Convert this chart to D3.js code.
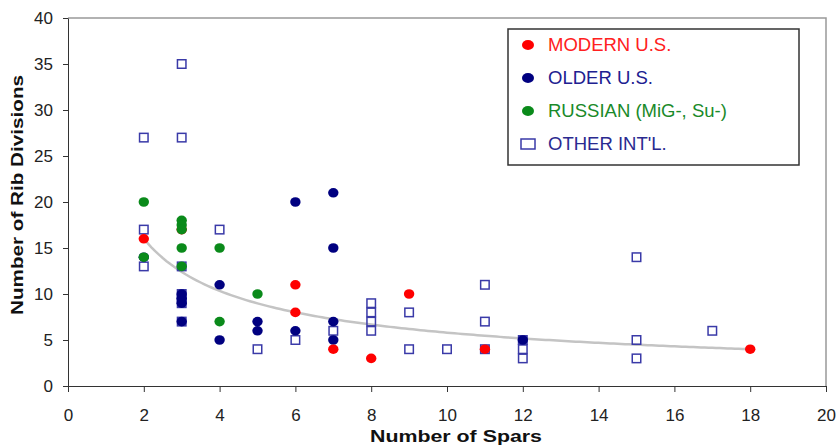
<!DOCTYPE html>
<html>
<head>
<meta charset="utf-8">
<style>
    body { margin: 0; background: #fff; }
    svg { display: block; font-family: "Liberation Sans", Arial, sans-serif; }
    .axis path, .axis line { stroke: #333; }
    .axis text { fill: #222; font-size: 17px; }
    .title { font-weight: bold; font-size: 17px; fill: #111; }
</style>
</head>
<body>
<script src="https://cdn.jsdelivr.net/npm/d3@7"></script>
<script>
// data: [spars, rib divisions]
var modern = [[2,16],[3,17],[6,11],[6,8],[7,4],[8,3],[9,10],[11,4],[18,4]];
var older = [[2,14],[3,10],[3,9.5],[3,9],[3,7],[4,11],[4,5],[5,7],[5,6],[6,20],[6,6],
             [7,21],[7,15],[7,7],[7,5],[12,5]];
var russian = [[2,20],[2,14],[3,18],[3,17.5],[3,17],[3,15],[3,13],[4,15],[4,7],[5,10]];
var other = [[2,27],[2,17],[2,13],[3,35],[3,27],[3,13],[3,10],[3,9.5],[3,9],[3,7],[4,17],
             [5,4],[6,5],[7,6],[8,9],[8,8],[8,7],[8,6],[9,8],[9,4],[10,4],[11,11],[11,7],[11,4],
             [12,5],[12,4],[12,3],[15,14],[15,5],[15,3],[17,6]];
var xTicks = [0,2,4,6,8,10,12,14,16,18,20];
var yTicks = [0,5,10,15,20,25,30,35,40];
var legendNames = ["MODERN U.S.", "OLDER U.S.", "RUSSIAN (MiG-, Su-)", "OTHER INT'L."];
// power trend line y = a * x^b
var trendA = 24.8, trendB = -0.631, trendRange = [2, 18];

var W = 839, H = 445;
var margin = { top: 18, right: 13, bottom: 59, left: 68 };
var width = W - margin.left - margin.right,
    height = H - margin.top - margin.bottom;

var x = d3.scaleLinear().domain([0, 20]).range([0, width]);
var y = d3.scaleLinear().domain([0, 40]).range([height, 0]);

var svg = d3.select("body").append("svg")
    .attr("width", W).attr("height", H);
var g = svg.append("g")
    .attr("transform", "translate(" + margin.left + "," + margin.top + ")");

// plot area border (top + right)
g.append("path")
    .attr("d", "M0,0H" + width + "V" + height)
    .attr("fill", "none").attr("stroke", "#999").attr("stroke-width", 1.5);

g.append("g").attr("class", "x axis")
    .attr("transform", "translate(0," + height + ")")
    .call(d3.axisBottom(x).tickValues(xTicks).tickSize(6).tickPadding(17).tickSizeOuter(0));

g.append("g").attr("class", "y axis")
    .call(d3.axisLeft(y).tickValues(yTicks).tickSize(5).tickPadding(10).tickSizeOuter(0));

// trend line
var trendPts = d3.range(trendRange[0], trendRange[1] + 0.01, 0.1)
    .map(function (v) { return [v, trendA * Math.pow(v, trendB)]; });
g.append("path")
    .datum(trendPts)
    .attr("fill", "none").attr("stroke", "#c4c4c4").attr("stroke-width", 2.5)
    .attr("d", d3.line().x(function (d) { return x(d[0]); }).y(function (d) { return y(d[1]); }));

// squares first, then filled circles
var sq = 8.5;
g.selectAll(".other").data(other).enter().append("rect")
    .attr("class", "other")
    .attr("x", function (d) { return x(d[0]) - sq / 2; })
    .attr("y", function (d) { return y(d[1]) - sq / 2; })
    .attr("width", sq).attr("height", sq)
    .attr("fill", "none").attr("stroke", "#3a3aa8").attr("stroke-width", 1.5);

function dots(data, color) {
    g.append("g").selectAll("ellipse").data(data).enter().append("ellipse")
        .attr("cx", function (d) { return x(d[0]); })
        .attr("cy", function (d) { return y(d[1]); })
        .attr("rx", 5.2).attr("ry", 4.8)
        .attr("fill", color);
}
dots(older, "#000080");
dots(modern, "#ff0000");
dots(russian, "#0a8a1a");

// axis titles
svg.append("text").attr("class", "title")
    .attr("x", 456).attr("y", 442)
    .attr("text-anchor", "middle")
    .attr("textLength", 172).attr("lengthAdjust", "spacingAndGlyphs")
    .text("Number of Spars");
svg.append("text").attr("class", "title")
    .attr("transform", "translate(23,195) rotate(-90)")
    .attr("text-anchor", "middle")
    .attr("textLength", 240).attr("lengthAdjust", "spacingAndGlyphs")
    .text("Number of Rib Divisions");

// legend
var lg = svg.append("g").attr("transform", "translate(508,29)");
lg.append("rect").attr("width", 291).attr("height", 136)
    .attr("fill", "#fff").attr("stroke", "#333").attr("stroke-width", 1.5);
var legColors = ["#ff0000", "#000080", "#0a8a1a", "#3a3aa8"];
var legText = ["#ff2020", "#202090", "#1a8a2a", "#2a2a90"];
var item = lg.selectAll(".item").data(legendNames).enter().append("g")
    .attr("transform", function (d, i) { return "translate(0," + (16 + i * 33) + ")"; });
item.each(function (d, i) {
    var s = d3.select(this);
    if (i < 3) {
        s.append("ellipse").attr("cx", 20).attr("cy", 0).attr("rx", 6).attr("ry", 5)
            .attr("fill", legColors[i]);
    } else {
        s.append("rect").attr("x", 13).attr("y", -5).attr("width", 14).attr("height", 10)
            .attr("fill", "none").attr("stroke", legColors[i]).attr("stroke-width", 1.5);
    }
    s.append("text").attr("x", 40).attr("y", 0).attr("dy", "0.35em")
        .attr("font-size", 18.5).attr("fill", legText[i]).text(d);
});
</script>
</body>
</html>
